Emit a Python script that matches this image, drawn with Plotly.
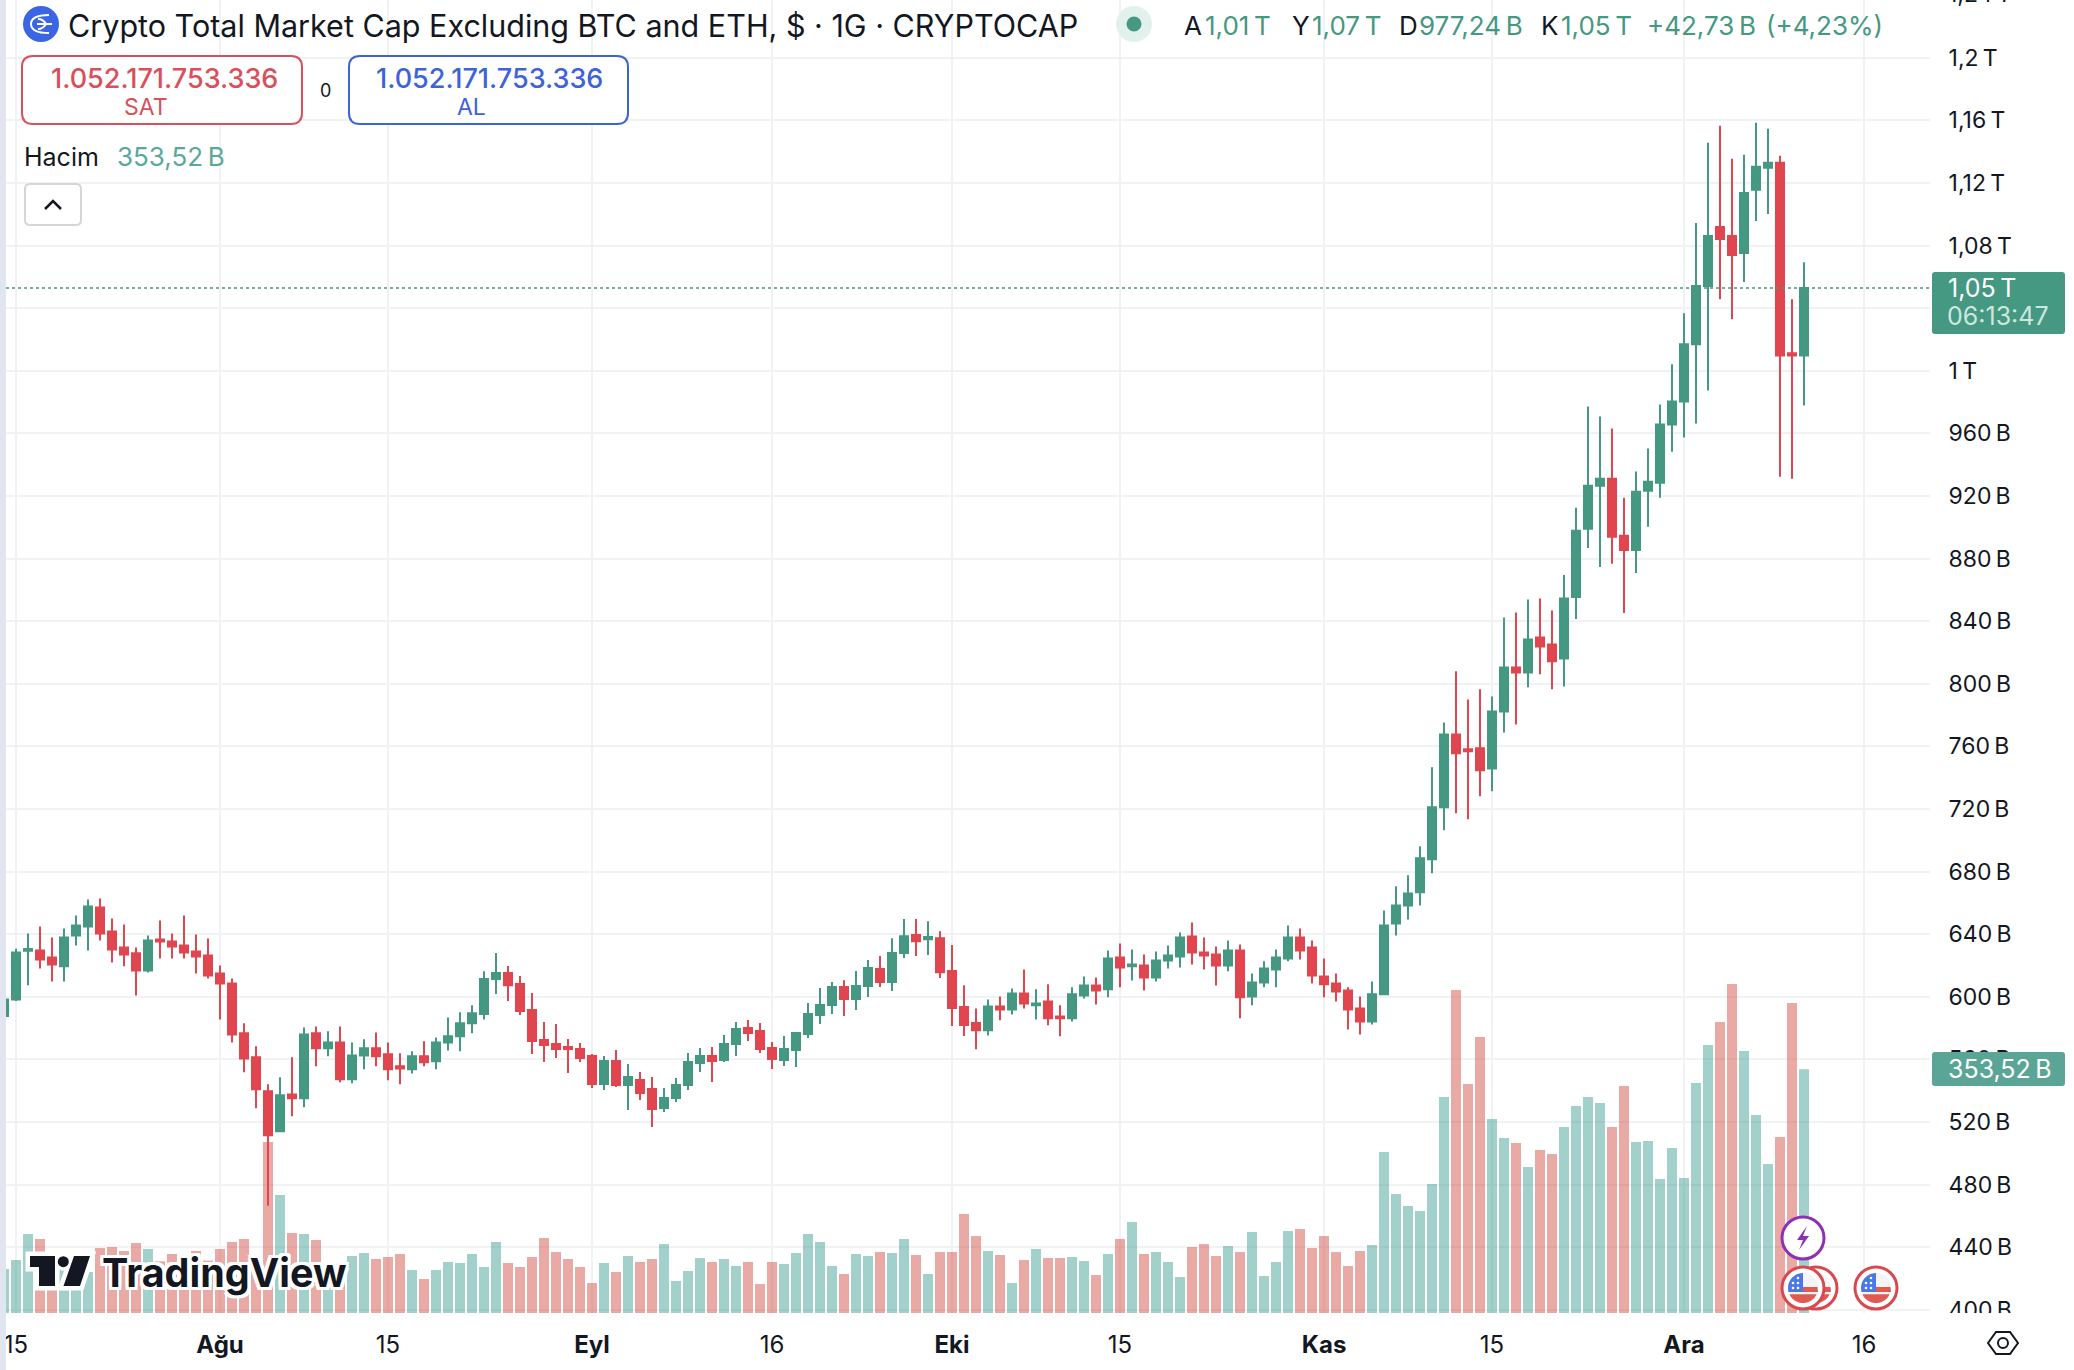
import math

import pandas as pd
import plotly.graph_objects as go

dates = pd.date_range("2024-07-14", periods=151)

# values in billions
opens = [587.7,
    598.3,629.4,629.6,625.1,619.4,639.1,644.9,657,641.7,631.5,
    627.7,616.8,636.6,635.3,632.8,628.9,626.4,614.9,608.5,576.6,
    561.3,539.6,514,537.6,535.1,576.6,567,570.8,547.2,562.5,
    567,563.2,555.5,553.6,561.9,558.7,570.8,574.7,583,588.9,
    611.3,615.1,608.1,591.5,572.3,569.8,567.9,566.6,562.1,544.2,
    558.9,543.6,546.8,541,528.9,535.3,543.6,557.6,562.1,559.6,
    569.8,580,578.1,567.2,559.6,566,576.2,588.3,594.7,606.2,
    598.5,606.8,617.7,609.4,627.9,639.4,636.8,637.4,616.4,593.4,
    583.2,578.5,593.8,591.9,602.1,594.5,597,587.4,586.2,600.8,
    607.2,604.7,625.1,619.4,620,612.3,623.2,625.7,638.5,628.3,
    627,620,629.6,600.2,609.1,617.4,624.5,637.9,631.5,613,
    608.5,604,592.5,584.2,601.5,646.8,658.3,666.8,687.9,721,
    767.6,758.1,758.7,745.9,782.3,810.4,807.2,829.6,825.1,816.2,
    855.4,899,926.5,931,894.5,885.5,923.3,928.5,965.7,980.4,
    1016.9,1054.1,1091.9,1086.1,1075.2,1115.6,1129.7,1132.9,1011.1,1009.8]
highs = [598.5,
    630.6,640.4,644.9,637.9,643.6,651.9,662.1,662.8,650,646.2,
    631.5,639.1,648.7,640.4,651.9,639.8,637.2,620,611.7,583,
    568.3,544,548.5,561.3,580.4,581,577.9,581,570.8,572.8,
    577.2,570.8,563.8,565.1,571.5,574,586.8,590,594.5,616.2,
    627.9,619.6,613.2,602.3,583.8,582.5,573,570.4,563.4,562.1,
    565.9,557,551.9,548.7,541.7,548.1,564,567.2,567.9,575.5,
    583.8,585.1,583.2,571,574.9,577.4,596,605.5,609.4,610.6,
    616.4,623.4,626,637.4,649.6,649.6,648.3,641.9,633,607.4,
    592.5,598.3,600.2,605.3,617.4,604.7,607.9,594.5,606,613,
    612.3,629.6,634,630.2,627,628.9,632.8,641.1,647.4,637.9,
    632.1,636,633.4,614.9,622.6,630.2,645.5,643.6,636,624.5,
    614.9,606,600.2,609.8,655.1,670.6,677.6,696.1,746.6,775.3,
    807.9,790,796.4,791.9,842.3,845.5,853.8,854.5,846.8,869.5,
    912.4,977.2,970.8,963.1,918.9,935.6,950.3,978.4,1004.1,1036.8,
    1094.4,1145.7,1156.6,1135.4,1138,1158.5,1154.7,1137.4,1045.7,1069.4]
lows = [587,
    597.2,607.4,618.1,609.8,609.8,632.8,629.6,636,621.9,619.4,
    600.8,615.5,624.5,624.5,624.5,614.9,611.7,585.5,570.8,551.7,
    528.7,466.5,514,523.6,529.3,555.5,561.9,545.3,544.7,553.6,
    555.5,546.6,544,551,555.5,553.6,565.7,565.1,576.6,585.5,
    601.7,597.2,588.3,563.4,558.3,560.8,551.3,558.3,541.7,540.4,
    542.3,527.6,534,516.8,526.4,532.8,540.4,551.9,545.5,558.3,
    562.1,571.7,564,553.8,555.7,555.1,573.6,582.5,588.9,587.7,
    591.5,599.8,606.2,603.6,624.7,626,626.6,611.9,581.3,574.9,
    566.4,575.3,584.9,588.7,592.5,585.5,581.7,574.7,584.2,598.9,
    595.1,599.6,606,610.4,604,609.8,618.1,618.7,620.6,617.4,
    607.2,616.2,586.2,594.5,606,606,622.6,623.8,608.5,599.6,
    597,579.1,575.9,582.3,601.5,639.1,649.4,658.3,678.9,706.4,
    717.2,713.4,728.1,731.3,768.9,774,797.7,806,796.4,798.3,
    841.3,886.8,874.6,876.6,845.2,870.8,900.3,918.9,948.3,957.3,
    966.3,987.4,1045.7,1032.9,1056.7,1095.7,1100.2,932.3,931,977.8]
closes = [598.3,
    628.3,630.5,623.8,620.6,637.9,645.5,657.7,640.4,630.2,627,
    616.8,636,635.3,632.1,628.3,625.7,613.6,608.5,575.9,560.6,
    540.8,511.5,537,535.1,575.9,567,570.8,547.2,562.5,567,
    561.9,553.6,554.2,561.9,558.1,570.8,574.7,583,589.4,611.3,
    615.1,607.4,590.8,571.7,569.1,566.6,566.6,560.8,544.2,558.9,
    543.6,548.7,538.5,528.3,535.3,543.6,558.3,562.1,558.9,569.8,
    579.4,576.8,566.6,560.2,566.6,576.8,588.9,594.7,606.2,598.5,
    606.8,618.3,609.4,627.9,638.7,635.5,638.1,615.7,592.8,581.9,
    578.5,593.8,591.9,602.1,595.7,595.7,586.2,586.2,601.5,607.2,
    604,624.5,618.7,620.6,612.3,623.2,626.4,637.9,628.3,626.4,
    620,629.6,599.6,609.1,618.1,625.1,637.9,629.6,613.6,607.9,
    603.4,591.9,584.2,601.5,645.5,658.3,666,688.5,721,767.6,
    755.5,756.8,744.7,782.3,810.4,807.2,828.3,823.8,814.3,854.5,
    897.7,926.5,931,893.9,885.5,922.7,929.1,965.7,980.4,1016.9,
    1054.1,1086.1,1084.2,1073.9,1113.6,1130.3,1132.9,1009.8,1009.8,1052.8]
volumes = [63.8,
    76.9,114.6,107.3,72,68,88,59.5,94.3,95.7,89.9,
    101.5,92.8,75,85.6,84,90,76,92.8,103,107.3,
    78,248,171.2,116,114.6,105.9,70,72,82.7,87,
    78.3,81.2,85.6,62.4,49.3,62.4,74,72.5,85.6,66.7,
    103,72.5,66.7,81.2,108.8,88.5,78.3,66.7,43.5,72.5,
    59.5,82.7,74,78.3,100,46.4,60.9,79.8,74,78.3,
    68.2,74,42.1,74,71.1,87,114.6,103,68.2,56.6,
    85.6,82.7,88.5,87,107.3,84.1,56.6,88.5,88.5,143.6,
    111.7,89.9,84.1,43.5,76.9,92.8,79.8,79.8,81.2,75.4,
    55.1,85.6,107.3,132,85.6,88.5,74,52.2,95.7,100,
    82.7,97.2,88.5,117.5,53.7,74,118.9,121.8,94.3,111.7,
    88.5,68.2,89.9,98.6,233.5,172.6,155.2,148,187.1,313.3,
    468.5,332.2,400.3,281.4,253.8,246.6,211.8,236.4,230.6,269.8,
    300.3,313.3,304.6,269.8,329.3,248,249.5,194.4,239.3,195.8,
    333.6,388.7,422.1,477.2,380,287.2,216.1,255.3,449.7,353.52]

price_ticks = [1200, 1160, 1120, 1080, 1040, 1000, 960, 920, 880, 840, 800, 760, 720,
               680, 640, 600, 560, 520, 480, 440, 400]
price_labels = ["1,2\u2009T", "1,16\u2009T", "1,12\u2009T", "1,08\u2009T", "1,04\u2009T", "1\u2009T",
                "960\u2009B", "920\u2009B", "880\u2009B", "840\u2009B", "800\u2009B", "760\u2009B",
                "720\u2009B", "680\u2009B", "640\u2009B", "600\u2009B", "560\u2009B", "520\u2009B",
                "480\u2009B", "440\u2009B", "400\u2009B"]
date_ticks = ["2024-07-15", "2024-08-01", "2024-08-15", "2024-09-01", "2024-09-16", "2024-10-01",
              "2024-10-15", "2024-11-01", "2024-11-15", "2024-12-01", "2024-12-16"]
date_labels = ["15", "<b>Ağu</b>", "15", "<b>Eyl</b>", "16", "<b>Eki</b>", "15", "<b>Kas</b>",
               "15", "<b>Ara</b>", "16"]

W, H = 2074, 1370
GREEN = "#459882"
RED = "#e0464f"
INK = "#131722"
FONT = "Inter"
PLOT_L, PLOT_R, PLOT_B = 6, 1930, 1313


def fx(x):
    return x / W


def fy(y):
    return 1 - y / H


def poly(points, close=True):
    d = "M" + " L".join(f"{fx(x):.5f},{fy(y):.5f}" for x, y in points)
    return d + (" Z" if close else "")


def round_rect(x0, y0, x1, y1, r):
    rx, ry = r / W, r / H
    a, b, c, d = fx(x0), fx(x1), fy(y0), fy(y1)
    return (f"M{a + rx:.5f},{c:.5f} L{b - rx:.5f},{c:.5f} Q{b:.5f},{c:.5f} {b:.5f},{c - ry:.5f} "
            f"L{b:.5f},{d + ry:.5f} Q{b:.5f},{d:.5f} {b - rx:.5f},{d:.5f} L{a + rx:.5f},{d:.5f} "
            f"Q{a:.5f},{d:.5f} {a:.5f},{d + ry:.5f} L{a:.5f},{c - ry:.5f} Q{a:.5f},{c:.5f} {a + rx:.5f},{c:.5f} Z")


shapes = []
notes = []


def path(d, fill="rgba(0,0,0,0)", line=None, width=0):
    shapes.append(dict(type="path", xref="paper", yref="paper", path=d, fillcolor=fill,
                       line=dict(color=line or "rgba(0,0,0,0)", width=width), layer="above"))


def circle(cx, cy, r, fill, line=None, width=0):
    shapes.append(dict(type="circle", xref="paper", yref="paper", x0=fx(cx - r), x1=fx(cx + r),
                       y0=fy(cy + r), y1=fy(cy - r), fillcolor=fill,
                       line=dict(color=line or "rgba(0,0,0,0)", width=width), layer="above"))


def text(x, y, s, size, color=INK, anchor="left", weight=None, shadow=None):
    font = dict(family=FONT, size=size, color=color)
    if weight:
        font["weight"] = weight
    if shadow:
        font["shadow"] = shadow
    notes.append(dict(x=fx(x), y=fy(y), xref="paper", yref="paper", text=s, showarrow=False,
                      xanchor=anchor, yanchor="middle", font=font, borderpad=0, borderwidth=0))


def arc_points(cx, cy, r, a0, a1, n=24):
    return [(cx + r * math.cos(math.radians(a0 + (a1 - a0) * k / n)),
             cy + r * math.sin(math.radians(a0 + (a1 - a0) * k / n))) for k in range(n + 1)]


def flag(cx, cy):
    circle(cx, cy, 21, "#ffffff", "#d9484e", 3)
    circle(cx, cy, 15, "#f4f4f6")
    path(poly(arc_points(cx, cy, 15, 25, 155)), fill="#e05a54")
    path(poly([(cx - 2, cy - 1), (cx + 14.5, cy - 1), (cx + 15, cy + 4), (cx - 2, cy + 4)]), fill="#e05a54")
    path(poly([(cx - 14, cy + 4), (cx, cy + 4), (cx, cy - 15)] + arc_points(cx, cy, 15, 270, 165, 12)),
         fill="#4a78e8")
    for dx, dy in [(-10, -5), (-5, -5), (-10, 0), (-5, 0), (-5, -10)]:
        circle(cx + dx, cy + dy, 1.3, "#ffffff")


# left strip
shapes.append(dict(type="rect", xref="paper", yref="paper", x0=0, x1=fx(PLOT_L), y0=0, y1=1,
                   fillcolor="#e1e5ef", line_width=0, layer="above"))
# last price line
shapes.append(dict(type="line", xref="paper", yref="y2", x0=fx(PLOT_L), x1=fx(PLOT_R),
                   y0=closes[-1], y1=closes[-1], line=dict(color=GREEN, width=1.5, dash="dot"),
                   layer="above"))
# mask under the clipped bottom price label
shapes.append(dict(type="rect", xref="paper", yref="paper", x0=fx(PLOT_R), x1=1, y0=fy(1328), y1=fy(PLOT_B),
                   fillcolor="#ffffff", line_width=0, layer="above"))

# header
circle(41, 24, 18, "#3a66e6")
path("M" + f"{fx(49)},{fy(15)} Q{fx(31)},{fy(15)} {fx(31)},{fy(24)} Q{fx(31)},{fy(33)} {fx(49)},{fy(33)}",
     line="#ffffff", width=2)
path(f"M{fx(37)},{fy(24)} L{fx(52)},{fy(24)}", line="#ffffff", width=2)
path(f"M{fx(38)},{fy(19)} Q{fx(43)},{fy(19)} {fx(46)},{fy(24)} Q{fx(43)},{fy(29)} {fx(38)},{fy(29)}",
     line="#ffffff", width=2)
text(68, 25, "Crypto Total Market Cap Excluding BTC and ETH, $ · 1G · CRYPTOCAP", 30.5)
circle(1134, 24, 18, "#e3f1ed")
circle(1134, 24, 7.5, GREEN)
for x, s, color in [(1184, "A", INK), (1205, "1,01\u2009T", GREEN), (1292, "Y", INK), (1312, "1,07\u2009T", GREEN),
                    (1399, "D", INK), (1419, "977,24\u2009B", GREEN), (1541, "K", INK), (1561, "1,05\u2009T", GREEN),
                    (1647, "+42,73\u2009B", GREEN), (1766, "(+4,23%)", GREEN)]:
    text(x, 25, s, 26, color)

# sell / buy boxes
path(round_rect(22, 56, 302, 124, 11), fill="#ffffff", line="#d9505a", width=2)
path(round_rect(349, 56, 628, 124, 11), fill="#ffffff", line="#3c63d9", width=2)
text(164, 79, "1.052.171.753.336", 27, "#d9505a", "center", 500)
text(146, 107, "SAT", 23, "#d9505a", "center")
text(325, 90, "0", 18, INK, "center")
text(489, 79, "1.052.171.753.336", 27, "#3c63d9", "center", 500)
text(471, 107, "AL", 23, "#3c63d9", "center")

# volume legend and collapse button
text(24, 157, "Hacim", 25)
text(117, 157, "353,52\u2009B", 26, "#5aa89a")
path(round_rect(25, 184, 81, 225, 5), fill="#ffffff", line="#d5d6da", width=2)
path(poly([(45, 209), (53, 201), (61, 209)], close=False), line=INK, width=2.5)

# price tags
path(round_rect(1932, 272, 2065, 334, 3), fill="#459882")
text(1948, 288, "1,05\u2009T", 25, "#ffffff")
text(1947, 316, "06:13:47", 25, "#cfe6e0")
path(round_rect(1932, 1052, 2065, 1086, 3), fill="#5aa595")
text(1948, 1069, "353,52\u2009B", 25, "#ffffff")
text(1948, -6, "1,24\u2009T", 23)

# events
flag(1816, 1288)
flag(1803, 1288)
flag(1876, 1288)
circle(1803, 1238, 21, "#ffffff", "#8e2fb5", 3)
path(poly([(1807, 1226), (1797, 1240), (1803, 1240), (1799, 1250), (1809, 1236), (1803, 1236)]), fill="#8e2fb5")

# settings hexagon
path(poly([(1988, 1343), (1996, 1332), (2010, 1332), (2018, 1343), (2010, 1354), (1996, 1354)]),
     line=INK, width=2)
circle(2003, 1343, 5, "#ffffff", INK, 2)

# watermark
logo = [[(30, 1256), (55, 1256), (55, 1286), (39, 1286), (39, 1267), (30, 1267)],
        [(74, 1256), (90, 1256), (80, 1286), (63.5, 1286)]]
for pts in logo:
    path(poly(pts), fill="#ffffff", line="#ffffff", width=9)
circle(63.3, 1261.7, 9, "#ffffff")
for pts in logo:
    path(poly(pts), fill=INK)
circle(63.3, 1261.7, 5.5, INK)
halo = ",".join(f"{a}px {b}px 0 #fff" for a in (-3, 0, 3) for b in (-3, 0, 3))
text(102, 1273, "TradingView", 39.5, INK, "left", 700, halo)

bar_colors = ["rgba(69,161,149,0.5)" if c >= o else "rgba(211,83,75,0.5)" for o, c in zip(opens, closes)]

fig = go.Figure()
fig.add_trace(go.Bar(x=dates, y=volumes, yaxis="y", marker=dict(color=bar_colors, line_width=0),
                     width=72000000, hoverinfo="skip", name="Hacim"))
fig.add_trace(go.Candlestick(
    x=dates, open=opens, high=highs, low=lows, close=closes, yaxis="y2", name="Price",
    whiskerwidth=0,
    increasing=dict(line=dict(color=GREEN, width=2), fillcolor=GREEN),
    decreasing=dict(line=dict(color=RED, width=2), fillcolor=RED),
))

fig.update_layout(
    width=W, height=H,
    margin=dict(l=0, r=0, t=0, b=0, autoexpand=False),
    paper_bgcolor="#ffffff", plot_bgcolor="#ffffff",
    showlegend=False,
    boxgap=0.33, boxgroupgap=0,
    shapes=shapes, annotations=notes,
    font=dict(family=FONT, color=INK),
    xaxis=dict(
        domain=[fx(PLOT_L), fx(PLOT_R)],
        range=["2024-07-14 04:00", "2024-12-21 12:00"],
        rangeslider=dict(visible=False),
        tickmode="array", tickvals=date_ticks, ticktext=date_labels,
        tickfont=dict(size=24, family=FONT, color=INK),
        ticks="outside", ticklen=10, tickcolor="rgba(0,0,0,0)",
        showgrid=True, gridcolor="#f1f2f4", gridwidth=1.5, showline=False, zeroline=False,
    ),
    yaxis=dict(
        domain=[fy(PLOT_B), 1], range=[0, 1904.6], visible=False, showgrid=False, fixedrange=True,
    ),
    yaxis2=dict(
        overlaying="y", side="right", anchor="x",
        range=[397.9, 1236.9],
        tickmode="array", tickvals=price_ticks, ticktext=price_labels,
        tickfont=dict(size=23, family=FONT, color=INK),
        ticks="outside", ticklen=13, tickcolor="rgba(0,0,0,0)",
        showgrid=True, gridcolor="#f1f2f4", gridwidth=2, showline=False, zeroline=False,
    ),
)

fig.write_html("out.html", config={"displayModeBar": False},
               post_script="document.body.style.margin='0'")
